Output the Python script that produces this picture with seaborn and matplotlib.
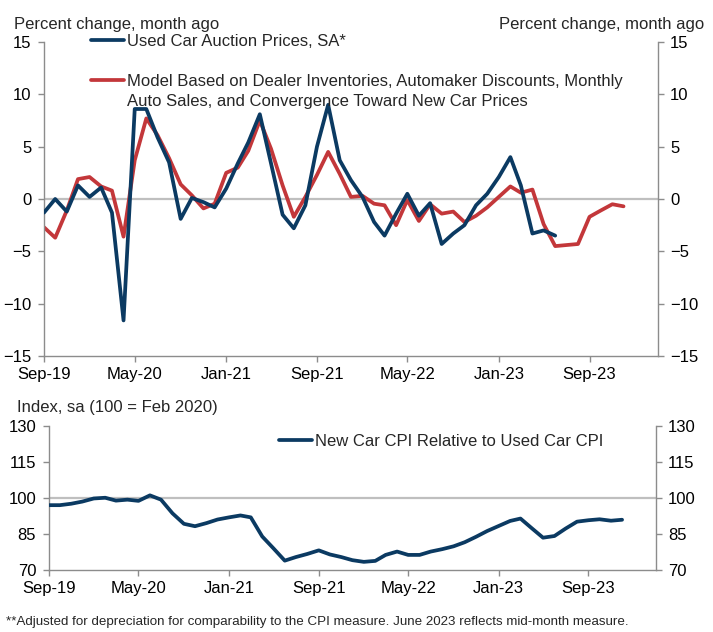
import pandas as pd
import matplotlib.pyplot as plt
import matplotlib.dates as mdates
from matplotlib.lines import Line2D
import seaborn as sns

# monthly values, Sep-2019 onward
used_car = [-1.3, 0.0, -1.2, 1.3, 0.2, 1.1, -1.3, -11.6, 8.6, 8.6, 5.9, 3.5, -1.9, 0.1, -0.3, -0.8,
            1.0, 3.4, 5.4, 8.1, 3.4, -1.5, -2.8, -0.6, 5.0, 9.0, 3.7, 1.8,
            0.2, -2.2, -3.5, -1.4, 0.5, -1.6, -0.4, -4.3, -3.3, -2.5, -0.6, 0.5, 2.1, 4.0, 1.3,
            -3.3, -3.0, -3.5]
model = [-2.7, -3.7, -1.1, 1.9, 2.1, 1.2, 0.8, -3.6, 3.7, 7.7, 6.1, 3.9, 1.4, 0.35, -0.9, -0.45,
         2.5, 3.0, 4.6, 7.5, 4.8, 1.3, -1.7, 0.2, 2.3, 4.5, 2.4, 0.2,
         0.3, -0.45, -0.6, -2.5, -0.1, -2.1, -0.5, -1.4, -1.2, -2.2, -1.6, -0.8, 0.2, 1.2, 0.6,
         0.9, -2.4, -4.5, -4.4, -4.3, -1.7, -1.1, -0.5, -0.7]
rel_index = [96.9, 96.9, 97.5, 98.4, 99.7, 100.0, 98.8, 99.2, 98.7, 101.0,
             99.2, 93.5, 89.1, 88.1, 89.4, 90.9, 91.8, 92.6, 91.8, 83.8,
             78.9, 73.7, 75.2, 76.5, 78.0, 76.3, 75.2, 73.9, 73.2, 73.6,
             76.1, 77.5, 76.1, 76.1, 77.5, 78.5, 79.7, 81.4, 83.7, 86.1,
             88.2, 90.3, 91.3, 87.2, 83.3, 84.0, 87.1, 90.0, 90.6, 91.0,
             90.4, 90.8]
tick_dates = ['2019-09-01', '2020-05-01', '2021-01-01', '2021-09-01',
              '2022-05-01', '2023-01-01', '2023-09-01']

used_label = 'Used Car Auction Prices, SA*'
model_label = ['Model Based on Dealer Inventories, Automaker Discounts, Monthly',
               'Auto Sales, and Convergence Toward New Car Prices']
index_label = 'New Car CPI Relative to Used Car CPI'

start = pd.Timestamp('2019-09-01')
d_used = pd.date_range(start, periods=len(used_car), freq='MS')
d_model = pd.date_range(start, periods=len(model), freq='MS')
d_index = pd.date_range(start, periods=len(rel_index), freq='MS')

sns.set_style('white')
plt.rcParams['font.family'] = ['Liberation Sans', 'DejaVu Sans']
fs = 12

navy = '#0B3A62'
red = '#C3373A'
grey = '#8C8C8C'

W, H = 713, 632
fig = plt.figure(figsize=(W / 100, H / 100), dpi=100)


def px(x0, y0, x1, y1):
    return [x0 / W, 1 - y1 / H, (x1 - x0) / W, (y1 - y0) / H]


ax1 = fig.add_axes(px(44, 42, 657.5, 356))
ax2 = fig.add_axes(px(48.7, 426, 655.7, 569.5))

ax1.axhline(0, color='#BFBFBF', lw=1.6, zorder=1)
sns.lineplot(x=d_used, y=used_car, color=navy, lw=2.7, ax=ax1, zorder=3)
sns.lineplot(x=d_model, y=model, color=red, lw=2.7, ax=ax1, zorder=2)

ax2.axhline(100, color='#BFBFBF', lw=1.6, zorder=1)
sns.lineplot(x=d_index, y=rel_index, color=navy, lw=2.7, ax=ax2, zorder=3)

ax1.set_ylim(-15, 15)
ax1.set_yticks(range(-15, 16, 5))
ax2.set_ylim(70, 130)
ax2.set_yticks(range(70, 131, 15))

for ax in (ax1, ax2):
    ax.set_xlim(start, pd.Timestamp('2024-03-01'))
    ax.set_xticks(pd.to_datetime(tick_dates))
    ax.xaxis.set_major_formatter(mdates.DateFormatter('%b-%y'))
    ax.set_xlabel('')
    ax.set_ylabel('')
    ax.spines['top'].set_visible(False)
    for s in ('left', 'right', 'bottom'):
        ax.spines[s].set_color(grey)
        ax.spines[s].set_linewidth(1)
    ax.tick_params(axis='both', direction='out', length=4, width=1, color=grey,
                   labelsize=fs, labelcolor='black')
    ax.tick_params(axis='y', left=True, right=True, labelleft=True, labelright=True, pad=5)
    ax.tick_params(axis='x', bottom=True, pad=4)

# legends
leg_kw = dict(loc='center left', frameon=False, handlelength=2.0, handletextpad=0.15,
              borderpad=0, borderaxespad=0, fontsize=fs)
fig.legend([Line2D([], [], color=navy, lw=2.7)], [used_label],
           bbox_to_anchor=(91 / W, 1 - 41.5 / H), **leg_kw)
fig.legend([Line2D([], [], color=red, lw=2.7), Line2D([], [], color='none')], model_label,
           bbox_to_anchor=(91 / W, 1 - 91.5 / H), labelspacing=0.3, **leg_kw)
fig.legend([Line2D([], [], color=navy, lw=2.7)], [index_label],
           bbox_to_anchor=(279 / W, 1 - 441.7 / H), **leg_kw)

fig.text(14 / W, 1 - 29.3 / H, 'Percent change, month ago', ha='left', va='baseline', fontsize=fs)
fig.text(704 / W, 1 - 29.3 / H, 'Percent change, month ago', ha='right', va='baseline', fontsize=fs)
fig.text(16.7 / W, 1 - 411.7 / H, 'Index, sa (100 = Feb 2020)', ha='left', va='baseline', fontsize=fs)
fig.text(5.5 / W, 1 - 624.7 / H,
         '**Adjusted for depreciation for comparability to the CPI measure. June 2023 reflects mid-month measure.',
         ha='left', va='baseline', fontsize=9.6)

fig.savefig('out.png', dpi=100)
